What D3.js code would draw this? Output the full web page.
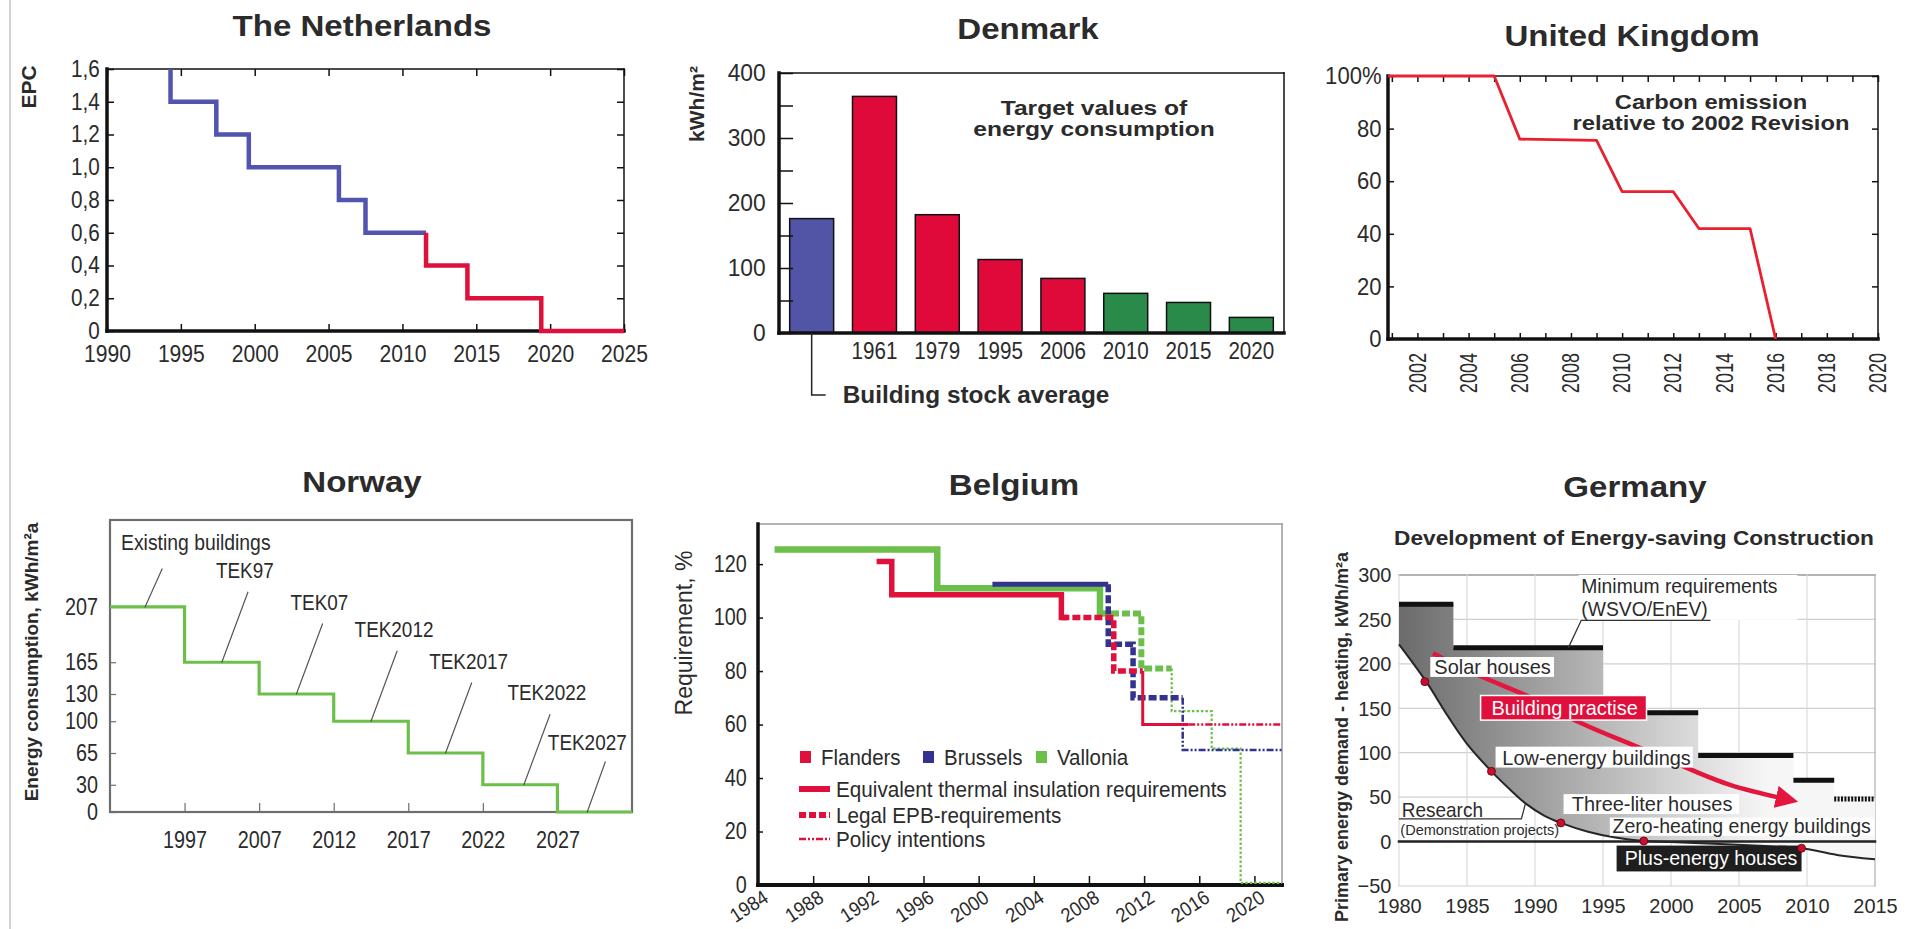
<!DOCTYPE html>
<html>
<head>
<meta charset="utf-8">
<script src="https://cdn.jsdelivr.net/npm/d3@7"></script>
<style>
  body { margin: 0; background: #fff; }
  svg { display: block; font-family: "Liberation Sans", Arial, sans-serif; }
</style>
</head>
<body>
<svg id="fig" width="1908" height="929"></svg>
<script>
// ---------------- data ----------------
// The Netherlands: EPC requirement (step after each year)
const nlYears = [1994.3, 1994.3, 1997.4, 1999.6, 2005.7, 2007.5, 2011.6, 2011.6, 2014.4, 2019.4, 2025];
const nlEpc   = [1.6, 1.4, 1.2, 1.0, 0.8, 0.6, 0.6, 0.4, 0.2, 0, 0];
const nlRedFrom = 6;
const nlXTicks = [1990, 1995, 2000, 2005, 2010, 2015, 2020, 2025];
const nlYTicks = [0, 0.2, 0.4, 0.6, 0.8, 1.0, 1.2, 1.4, 1.6];

// Denmark: kWh/m2
const dkCats   = ["avg", "1961", "1979", "1995", "2006", "2010", "2015", "2020"];
const dkValues = [176, 364, 182, 113, 84, 61, 47, 24];
const dkKind   = ["stock", "past", "past", "past", "past", "future", "future", "future"];
const dkYTicks = [0, 50, 100, 150, 200, 250, 300, 350, 400];

// United Kingdom: carbon emission relative to 2002
const ukYears = [2000.85, 2005, 2006, 2009, 2010, 2012, 2013, 2015, 2016];
const ukPct   = [100, 100, 76, 75.5, 56, 56, 42, 42, 0];
const ukLabelYears = [2002, 2004, 2006, 2008, 2010, 2012, 2014, 2016, 2018, 2020];
const ukYTicks = [0, 20, 40, 60, 80, 100];

// Norway: energy frame per TEK revision
const noLevels = [207, 165, 130, 100, 65, 30, 0];
const noYearLabels = ["1997", "2007", "2012", "2017", "2022", "2027"];
const noYTicks = [0, 30, 65, 100, 130, 165, 207];
const noNames = ["Existing buildings", "TEK97", "TEK07", "TEK2012", "TEK2017", "TEK2022", "TEK2027"];
const noLeaderAt = [0.47, 1.5, 2.5, 3.5, 4.5, 5.55, 6.4];

// Belgium: requirement, % ([year, value])
const beFlEq     = [[1992.6, 121], [1993.7, 121], [1993.7, 108.5], [2006, 108.5], [2006, 100], [2006.4, 100]];
const beFlEq2    = [[2011.9, 80], [2011.9, 60], [2015.2, 60]];
const beFlLegal  = [[2006, 100], [2009.8, 100], [2009.8, 80], [2011.9, 80]];
const beFlPolicy = [[2015.2, 60], [2022, 60]];
const beBrEq     = [[2001, 112.5], [2009.4, 112.5]];
const beBrLegal  = [[2009.4, 112.5], [2009.4, 90], [2011.2, 90], [2011.2, 70], [2014.8, 70]];
const beBrPolicy = [[2014.8, 70], [2014.8, 50.5], [2022, 50.5]];
const beVaEq     = [[1985.2, 125.5], [1997, 125.5], [1997, 111], [2008.8, 111], [2008.8, 101.5], [2009.6, 101.5]];
const beVaLegal  = [[2009.6, 101.5], [2011.8, 101.5], [2011.8, 81], [2014, 81]];
const beVaPolicy = [[2014, 81], [2014, 65], [2016.9, 65], [2016.9, 51], [2019, 51], [2019, 0.8], [2022, 0.8]];
const beXTicks = [1984, 1988, 1992, 1996, 2000, 2004, 2008, 2012, 2016, 2020];
const beYTicks = [0, 20, 40, 60, 80, 100, 120];

// Germany: primary energy demand - heating
const deMinYears  = [1980, 1984, 1995, 2002, 2009, 2012, 2015];
const deMinValues = [267, 218, 145, 97, 69, 48];
const deCurveYears  = [1980, 1982, 1983.6, 1985, 1986.8, 1988.2, 1989.3, 1990.7, 1991.9, 1993.9, 1995.9, 1998, 2000.8, 2003.6, 2006.5, 2009.6, 2012.2, 2015];
const deCurveValues = [222, 180, 141, 110, 79, 58, 43, 29, 21, 11, 4.5, 0.7, -1, -2.6, -4.8, -7.5, -15, -20];
const deDotYears  = [1981.9, 1986.8, 1991.9, 1998, 2009.6];
const deDotValues = [180, 79, 21, 0.7, -7.5];
const dePracticeYears  = [1982.5, 1986, 1990, 1993, 1997, 2001, 2004.5, 2008.7];
const dePracticeValues = [212, 186, 160, 136, 110, 84, 63, 47];
const deXTicks = [1980, 1985, 1990, 1995, 2000, 2005, 2010, 2015];
const deYTicks = [-50, 0, 50, 100, 150, 200, 250, 300];

// ---------------- helpers ----------------
const FONT = "'Liberation Sans', Arial, sans-serif";
const INK = "#2b2b2b";
const RED = "#e0103c";
const svg = d3.select("#fig");

function txt(g, x, y, s, o = {}) {
  return g.append("text")
    .attr("transform", `translate(${x},${y})` + (o.rot ? ` rotate(${o.rot})` : "") + ` scale(${o.sx || 1},${o.sy || 1})`)
    .attr("text-anchor", o.anchor || "start")
    .attr("dy", "0.35em")
    .attr("font-size", o.size || 22)
    .attr("font-weight", o.bold ? "bold" : null)
    .attr("fill", o.fill || INK)
    .text(s);
}

function title(g, x, y, s) {
  txt(g, x, y, s, { anchor: "middle", size: 29, bold: true, sx: 1.14 });
}

function axisStyle(sel, o = {}) {
  sel.attr("font-family", FONT).attr("font-size", o.size || 24);
  sel.select(".domain").remove();
  sel.selectAll(".tick line").attr("stroke", o.tick || "#111").attr("stroke-width", o.tw || 1.5);
  sel.selectAll(".tick text").attr("fill", INK).attr("transform", `scale(${o.sx || 1},1)`);
  return sel;
}

function seg(g, x1, y1, x2, y2, color, w) {
  g.append("line").attr("x1", x1).attr("y1", y1).attr("x2", x2).attr("y2", y2)
    .attr("stroke", color).attr("stroke-width", w).attr("stroke-linecap", "square");
}

// page border line on the left
seg(svg, 10, 0, 10, 929, "#c4c4c4", 1.5);

// ---------------- The Netherlands ----------------
{
  const L = 107, R = 624, T = 69, B = 331;
  const x = d3.scaleLinear().domain([1990, 2025]).range([L, R]);
  const y = d3.scaleLinear().domain([0, 1.6]).range([B, T]);
  const g = svg.append("g");
  title(g, 362, 26, "The Netherlands");
  const comma = d => d === 0 ? "0" : d3.format(".1f")(d).replace(".", ",");
  axisStyle(g.append("g").attr("transform", `translate(0,${B})`)
    .call(d3.axisBottom(x).tickValues(nlXTicks).tickFormat(d3.format("d")).tickSize(-7).tickPadding(14)), { sx: 0.88 });
  axisStyle(g.append("g").attr("transform", `translate(0,${T})`)
    .call(d3.axisTop(x).tickValues(nlXTicks).tickFormat("").tickSize(-7)));
  axisStyle(g.append("g").attr("transform", `translate(${L},0)`)
    .call(d3.axisLeft(y).tickValues(nlYTicks).tickFormat(comma).tickSize(-7).tickPadding(8)), { sx: 0.9, size: 23 });
  axisStyle(g.append("g").attr("transform", `translate(${R},0)`)
    .call(d3.axisRight(y).tickValues(nlYTicks).tickFormat("").tickSize(-7)));
  seg(g, L, T, R, T, "#111", 1.5);
  seg(g, R, T, R, B, "#111", 1.5);
  seg(g, L, T, L, B, "#111", 3.5);
  seg(g, L, B, R, B, "#111", 3.5);
  txt(g, 29, 87, "EPC", { anchor: "middle", size: 21, bold: true, rot: -90 });

  const pts = nlYears.map((d, i) => [d, nlEpc[i]]);
  const line = d3.line().x(d => x(d[0])).y(d => y(d[1])).curve(d3.curveStepAfter);
  g.append("path").attr("d", line(pts.slice(0, nlRedFrom + 1)))
    .attr("fill", "none").attr("stroke", "#5353b0").attr("stroke-width", 4.5);
  g.append("path").attr("d", line(pts.slice(nlRedFrom)))
    .attr("fill", "none").attr("stroke", RED).attr("stroke-width", 4.5);
}

// ---------------- Denmark ----------------
{
  const L = 779, R = 1284, T = 73, B = 333;
  const x = d3.scaleBand().domain(dkCats).range([L, R]).paddingInner(0.3).paddingOuter(0.17);
  const y = d3.scaleLinear().domain([0, 400]).range([B, T]);
  const color = d3.scaleOrdinal().domain(["stock", "past", "future"]).range(["#5254a6", "#e00a3a", "#2a8a4a"]);
  const g = svg.append("g");
  title(g, 1028, 29, "Denmark");

  g.selectAll("rect.bar").data(dkCats).enter().append("rect")
    .attr("x", d => x(d)).attr("width", x.bandwidth())
    .attr("y", (d, i) => y(dkValues[i])).attr("height", (d, i) => B - y(dkValues[i]))
    .attr("fill", (d, i) => color(dkKind[i])).attr("stroke", "#111").attr("stroke-width", 1.5);

  axisStyle(g.append("g").attr("transform", `translate(${L},0)`)
    .call(d3.axisLeft(y).tickValues(dkYTicks).tickFormat(d => d % 100 === 0 ? d : "").tickSize(-14).tickPadding(-3)), { sx: 0.95 });
  g.selectAll(".tick text").attr("x", -14);
  axisStyle(g.append("g").attr("transform", `translate(0,${B})`)
    .call(d3.axisBottom(x).tickFormat(d => d === "avg" ? "" : d).tickSize(0).tickPadding(9)), { sx: 0.86 });
  seg(g, L, T, R, T, "#111", 1.5);
  seg(g, R, T, R, B, "#111", 1.5);
  seg(g, L, T, L, B, "#111", 3.5);
  seg(g, L, B, R, B, "#111", 3.5);

  txt(g, 697, 104, "kWh/m²", { anchor: "middle", size: 21, bold: true, rot: -90 });
  txt(g, 1094, 108, "Target values of", { anchor: "middle", size: 21, bold: true, sx: 1.17 });
  txt(g, 1094, 129, "energy consumption", { anchor: "middle", size: 21, bold: true, sx: 1.17 });

  const cx = x("avg") + x.bandwidth() / 2;
  g.append("path").attr("d", `M${cx},${B}V395H${cx + 14}`).attr("fill", "none").attr("stroke", "#222").attr("stroke-width", 1.5);
  txt(g, cx + 31, 395, "Building stock average", { size: 23, bold: true, sx: 1.06 });
}

// ---------------- United Kingdom ----------------
{
  const L = 1388, R = 1878, T = 76, B = 339;
  const x = d3.scaleLinear().domain([2000.85, 2020]).range([L, R]);
  const y = d3.scaleLinear().domain([0, 100]).range([B, T]);
  const g = svg.append("g");
  title(g, 1632, 36, "United Kingdom");
  const years = d3.range(2001, 2021);
  axisStyle(g.append("g").attr("transform", `translate(0,${B})`)
    .call(d3.axisBottom(x).tickValues(years).tickFormat("").tickSize(-6)));
  axisStyle(g.append("g").attr("transform", `translate(0,${T})`)
    .call(d3.axisTop(x).tickValues(years).tickFormat("").tickSize(-6)));
  axisStyle(g.append("g").attr("transform", `translate(${L},0)`)
    .call(d3.axisLeft(y).tickValues(ukYTicks).tickFormat(d => d === 100 ? "100%" : d).tickSize(-6).tickPadding(7)), { sx: 0.92 });
  axisStyle(g.append("g").attr("transform", `translate(${R},0)`)
    .call(d3.axisRight(y).tickValues(ukYTicks).tickFormat("").tickSize(-6)));
  ukLabelYears.forEach(yr => txt(g, x(yr), B + 14, String(yr), { anchor: "end", size: 21, rot: -90, sx: 0.86, sy: 1.1 }));
  seg(g, L, T, R, T, "#111", 1.5);
  seg(g, R, T, R, B, "#111", 1.5);
  seg(g, L, T, L, B, "#111", 3.5);
  seg(g, L, B, R, B, "#111", 3.5);

  txt(g, 1711, 102, "Carbon emission", { anchor: "middle", size: 21, bold: true, sx: 1.13 });
  txt(g, 1711, 123, "relative to 2002 Revision", { anchor: "middle", size: 21, bold: true, sx: 1.13 });

  const line = d3.line().x((d, i) => x(d)).y((d, i) => y(ukPct[i]));
  g.append("path").attr("d", line(ukYears)).attr("fill", "none")
    .attr("stroke", "#e8202f").attr("stroke-width", 2.8).attr("stroke-linejoin", "round");
}

// ---------------- Norway ----------------
{
  const L = 110, R = 632, T = 520, B = 812, H = B - T;
  const x = d3.scaleLinear().domain([0, 7]).range([L, R]);
  const y = d3.scaleLinear().domain([0, 165, 207, 290]).range([B, B - 0.52 * (812 - 524), B - 0.712 * (812 - 524), T]);
  const g = svg.append("g");
  title(g, 362, 482, "Norway");
  const grey = "#6e6e6e";
  axisStyle(g.append("g").attr("transform", `translate(${L},0)`)
    .call(d3.axisLeft(y).tickValues(noYTicks).tickSize(-6).tickPadding(14)), { sx: 0.86, tick: grey, tw: 1.2, size: 23 });
  axisStyle(g.append("g").attr("transform", `translate(0,${B})`)
    .call(d3.axisBottom(x).tickValues(d3.range(1, 7)).tickFormat(i => noYearLabels[i - 1]).tickSize(-9).tickPadding(20)), { sx: 0.86, tick: grey, tw: 1.2, size: 23 });
  g.append("rect").attr("x", L).attr("y", T).attr("width", R - L).attr("height", H)
    .attr("fill", "none").attr("stroke", grey).attr("stroke-width", 2.2);

  txt(g, 31, 662, "Energy consumption, kWh/m²a", { anchor: "middle", size: 19, bold: true, rot: -90 });

  const pts = noLevels.map((v, i) => [i, v]).concat([[7, 0]]);
  g.append("path").attr("d", d3.line().x(d => x(d[0])).y(d => y(d[1])).curve(d3.curveStepAfter)(pts))
    .attr("fill", "none").attr("stroke", "#6cc04a").attr("stroke-width", 3.2);

  noNames.forEach((name, i) => {
    const x0 = x(noLeaderAt[i]), y0 = y(noLevels[i]);
    let dx = 26, dy = 70;
    if (i === 0) { dx = 17; dy = 38; }
    if (i === 6) { dx = 18; dy = 50; }
    seg(g, x0, y0, x0 + dx, y0 - dy, "#555", 1.2);
    if (i === 0) txt(g, L + 11, T + 22, name, { size: 22, sx: 0.88 });
    else if (i === 6) txt(g, x0 + dx - 18, y0 - dy - 20, name, { anchor: "middle", size: 22, sx: 0.86 });
    else txt(g, x0 + dx - 3, y0 - dy - 22, name, { anchor: "middle", size: 22, sx: 0.86 });
  });
}

// ---------------- Belgium ----------------
{
  const L = 758, R = 1282, T = 524, B = 885;
  const x = d3.scaleLinear().domain([1984, 2022]).range([L, R]);
  const y = d3.scaleLinear().domain([0, 135]).range([B, T]);
  const g = svg.append("g");
  title(g, 1014, 485, "Belgium");

  axisStyle(g.append("g").attr("transform", `translate(${L},0)`)
    .call(d3.axisLeft(y).tickValues(beYTicks).tickSize(-5).tickPadding(13)), { sx: 0.86, size: 23 });
  axisStyle(g.append("g").attr("transform", `translate(0,${B})`)
    .call(d3.axisBottom(x).tickValues(beXTicks.slice(1)).tickFormat("").tickSize(-9)));
  beXTicks.forEach(t => txt(g, x(t) + 8, B + 10, String(t), { anchor: "end", size: 20, rot: -33, sx: 0.92 }));
  seg(g, L, T, R, T, "#9a9a9a", 1.5);
  seg(g, R, T, R, B, "#9a9a9a", 1.5);
  seg(g, L, T, L, B, "#111", 3.5);
  seg(g, L, B, R, B, "#111", 4);

  txt(g, 684, 633, "Requirement, %", { anchor: "middle", size: 23, rot: -90 });

  const line = d3.line().x(d => x(d[0])).y(d => y(d[1]));
  const draw = (pts, col, w, dash) => g.append("path").attr("d", line(pts)).attr("fill", "none")
    .attr("stroke", col).attr("stroke-width", w).attr("stroke-dasharray", dash || null);
  const blue = "#33338f", green = "#6cbf4a";
  const policy = "7,2,2,2,2,2";
  draw(beVaEq, green, 6.5); draw(beVaLegal, green, 6, "8,3"); draw(beVaPolicy, green, 2.2, "2.5,2");
  draw(beBrEq, blue, 5); draw(beBrLegal, blue, 5.5, "8,3"); draw(beBrPolicy, blue, 2.5, policy);
  draw(beFlEq, RED, 5.5); draw(beFlLegal, RED, 5.5, "8,3"); draw(beFlEq2, RED, 3); draw(beFlPolicy, RED, 2.5, policy);

  // legend
  const regionColors = [RED, blue, green];
  const regionX = [800, 923, 1036];
  ["Flanders", "Brussels", "Vallonia"].forEach((r, i) => {
    g.append("rect").attr("x", regionX[i]).attr("y", 751).attr("width", 11).attr("height", 12).attr("fill", regionColors[i]);
    txt(g, regionX[i] + 21, 757, r, { size: 22, sx: 0.93 });
  });
  const legItems = [["Equivalent thermal insulation requirements", 6, null],
                    ["Legal EPB-requirements", 6, "7,3"],
                    ["Policy intentions", 2.5, policy]];
  const legY = [789, 815, 839];
  legItems.forEach((it, i) => {
    g.append("line").attr("x1", 799).attr("x2", 830).attr("y1", legY[i]).attr("y2", legY[i])
      .attr("stroke", RED).attr("stroke-width", it[1]).attr("stroke-dasharray", it[2]);
    txt(g, 836, legY[i], it[0], { size: 22, sx: 0.94 });
  });
}

// ---------------- Germany ----------------
{
  const L = 1399, R = 1875, T = 575, B = 886;
  const x = d3.scaleLinear().domain([1980, 2015]).range([L, R]);
  const y = d3.scaleLinear().domain([-50, 300]).range([B, T]);
  const g = svg.append("g");
  title(g, 1635, 487, "Germany");
  txt(g, 1634, 538, "Development of Energy-saving Construction", { anchor: "middle", size: 21, bold: true, sx: 1.08 });

  // grid
  deYTicks.forEach(v => seg(g, L, y(v), R, y(v), v === 300 ? "#9a9a9a" : "#cfcfcf", v === 300 ? 1.6 : 1.2));
  deXTicks.forEach(t => seg(g, x(t), T, x(t), B, t === 2015 ? "#b0b0b0" : "#dadada", 1.2));

  // shaded band between requirements and research curve
  const grad = g.append("defs").append("linearGradient").attr("id", "deShade")
    .attr("gradientUnits", "userSpaceOnUse").attr("x1", x(1980)).attr("x2", x(2007)).attr("y1", 0).attr("y2", 0);
  grad.append("stop").attr("offset", 0).attr("stop-color", "#6b6b6b");
  grad.append("stop").attr("offset", 0.45).attr("stop-color", "#a9a9a9");
  grad.append("stop").attr("offset", 1).attr("stop-color", "#f6f6f6");
  const stepPts = deMinYears.map((yr, i) => [yr, deMinValues[Math.min(i, deMinValues.length - 1)]]);
  const stepLine = d3.line().x(d => x(d[0])).y(d => y(d[1])).curve(d3.curveStepAfter);
  const curvePts = deCurveYears.map((yr, i) => [yr, deCurveValues[i]]);
  const curveLine = d3.line().x(d => x(d[0])).y(d => y(d[1])).curve(d3.curveCatmullRom);
  const back = curveLine(curvePts.slice().reverse()).replace(/^M/, "L");
  g.append("path").attr("d", stepLine(stepPts) + back + "Z").attr("fill", "url(#deShade)");

  // minimum requirement steps
  deMinValues.forEach((v, i) => {
    g.append("line").attr("x1", x(deMinYears[i])).attr("x2", x(deMinYears[i + 1]))
      .attr("y1", y(v)).attr("y2", y(v)).attr("stroke", "#111").attr("stroke-width", 5)
      .attr("stroke-dasharray", i === deMinValues.length - 1 ? "2,1.4" : null);
  });
  seg(g, L, y(0), R, y(0), "#222", 2.5);

  // research curve
  g.append("path").attr("d", curveLine(curvePts)).attr("fill", "none").attr("stroke", "#262626").attr("stroke-width", 2);

  // building practise arrow
  g.append("defs").append("marker").attr("id", "deArrow").attr("viewBox", "0 0 10 10")
    .attr("refX", 6).attr("refY", 5).attr("markerWidth", 5).attr("markerHeight", 5).attr("orient", "auto")
    .append("path").attr("d", "M0,0L10,5L0,10Z").attr("fill", "#e3173e");
  g.append("path").attr("d", d3.line().x((d, i) => x(d)).y((d, i) => y(dePracticeValues[i])).curve(d3.curveNatural)(dePracticeYears))
    .attr("fill", "none").attr("stroke", "#e3173e").attr("stroke-width", 4.5).attr("marker-end", "url(#deArrow)");

  // label boxes
  const box = (x0, x1, v0, v1, fill) => g.append("rect").attr("x", x(x0)).attr("y", y(v0))
    .attr("width", x(x1) - x(x0)).attr("height", y(v1) - y(v0)).attr("fill", fill);
  box(1993.2, 2009.3, 300, 249.5, "#fff");
  txt(g, x(1993.4), y(287.6), "Minimum requirements", { size: 21, sx: 0.92 });
  txt(g, x(1993.4), y(262.6), "(WSVO/EnEV)", { size: 21, sx: 0.92 });
  g.append("path").attr("d", `M${x(2002.9)},${y(249)}H${x(1993.4)}L${x(1992.45)},${y(218)}`)
    .attr("fill", "none").attr("stroke", "#333").attr("stroke-width", 1.3);

  box(1982.3, 1991.4, 207.7, 185.3, "#fff");
  txt(g, x(1982.6), y(196.5), "Solar houses", { size: 21, sx: 0.95 });
  box(1986, 1998.2, 164.4, 136.7, "#e0103c").attr("stroke", "#fff").attr("stroke-width", 1.5);
  txt(g, x(1986.8), y(151), "Building practise", { size: 21, sx: 0.95, fill: "#fff" });
  box(1987.1, 2001.6, 106.8, 83.3, "#fff");
  txt(g, x(1987.6), y(94.5), "Low-energy buildings", { size: 21, sx: 0.95 });
  box(1992.1, 2005, 53.4, 31, "#fff");
  txt(g, x(1992.7), y(42.2), "Three-liter houses", { size: 21, sx: 0.95 });
  box(1995.5, 2014.9, 27, 6.5, "#fff");
  txt(g, x(1995.7), y(17.5), "Zero-heating energy buildings", { size: 21, sx: 0.93 });
  box(1996, 2009.6, -4.5, -33.6, "#1e1e1e");
  txt(g, x(1996.6), y(-18), "Plus-energy houses", { size: 21, sx: 0.93, fill: "#fff" });

  txt(g, x(1980.2), y(36), "Research", { size: 20, sx: 0.95 });
  txt(g, x(1980.1), y(13.5), "(Demonstration projects)", { size: 14.5, sx: 1.0 });
  g.append("path").attr("d", `M${x(1980)},${y(25.5)}H${x(1989)}L${x(1989.3)},${y(43)}`)
    .attr("fill", "none").attr("stroke", "#333").attr("stroke-width", 1.3);

  // milestone dots
  g.selectAll("circle.dot").data(deDotYears).enter().append("circle")
    .attr("cx", d => x(d)).attr("cy", (d, i) => y(deDotValues[i])).attr("r", 4)
    .attr("fill", "#c8102e").attr("stroke", "#5a0010").attr("stroke-width", 0.8);

  // axes
  axisStyle(g.append("g").attr("transform", `translate(${L},0)`)
    .call(d3.axisLeft(y).tickValues(deYTicks).tickSize(0).tickPadding(8)), { sx: 0.95, size: 21 });
  axisStyle(g.append("g").attr("transform", `translate(0,${B})`)
    .call(d3.axisBottom(x).tickValues(deXTicks).tickFormat(d3.format("d")).tickSize(0).tickPadding(12)), { sx: 0.95, size: 21 });
  txt(g, 1342, 737, "Primary energy demand - heating, kWh/m²a", { anchor: "middle", size: 18, bold: true, rot: -90 });
}
</script>
</body>
</html>
